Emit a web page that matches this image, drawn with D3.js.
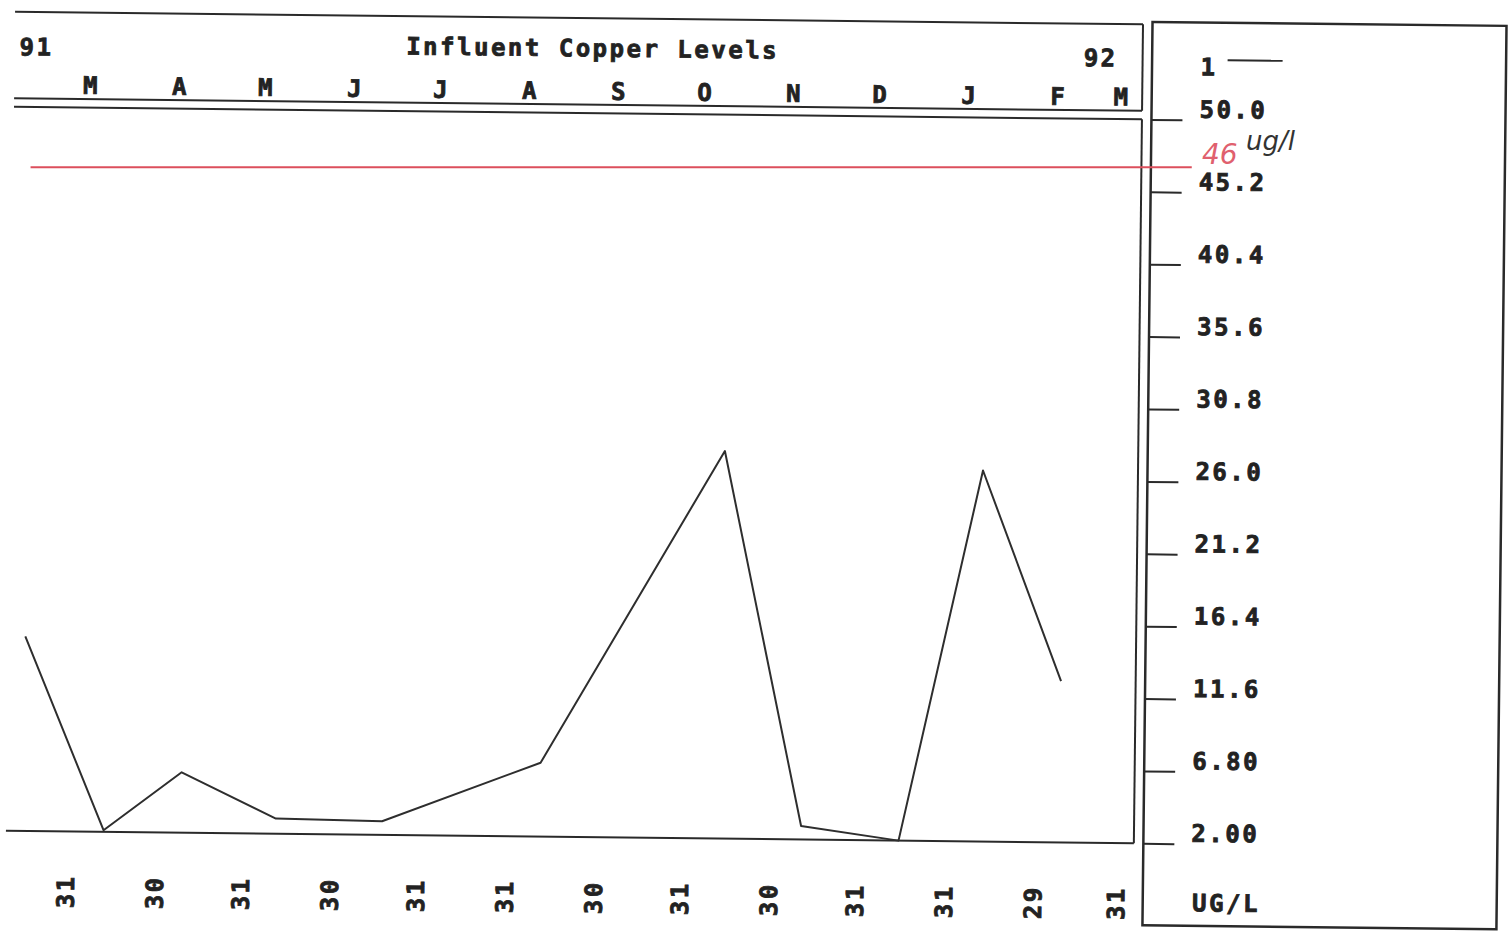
<!DOCTYPE html>
<html>
<head>
<meta charset="utf-8">
<script src="https://cdn.jsdelivr.net/npm/d3@7"></script>
<style>
  body { margin: 0; background: #fff; }
  svg { display: block; }
  .mono { font-family: 'DejaVu Sans Mono', monospace; font-weight: bold; font-size: 24px; fill: #222; stroke: #222; stroke-width: 0.8px; letter-spacing: 2.5px; }
  .frame { fill: none; stroke: #2a2a2a; stroke-width: 2; }
</style>
</head>
<body>
<div id="viz"></div>
<script>
const title = 'Influent Copper Levels'
const yearStart = '91', yearEnd = '92'

// monthly samples
const sampleDates = ['1991-02-14', '1991-03-14', '1991-04-10', '1991-05-13', '1991-06-19',
    '1991-08-13', '1991-10-15', '1991-11-12', '1991-12-16', '1992-01-13', '1992-02-10']
const copperLevels = [14.9, 2.1, 6.0, 3.0, 2.9, 6.9, 27.7, 2.9, 2.0, 26.6, 12.7]

const monthLetters = ['M', 'A', 'M', 'J', 'J', 'A', 'S', 'O', 'N', 'D', 'J', 'F', 'M']
const monthDays = ['31', '30', '31', '30', '31', '31', '30', '31', '30', '31', '31', '29', '31']

const yTickValues = [50.0, 45.2, 40.4, 35.6, 30.8, 26.0, 21.2, 16.4, 11.6, 6.8, 2.0]
const yTickLabels = ['50.0', '45.2', '40.4', '35.6', '30.8', '26.0', '21.2', '16.4', '11.6', '6.80', '2.00']

const unitLabel = 'UG/L'
const seriesLabel = '1'
const limitValue = 46
const limitText = '46', limitUnit = 'ug/l'

render = () => {
    const width = 1510,
        height = 940

    // the scan sits slightly skewed
    const tilt = 0.64, cx = 755, cy = 470

    const plot = { left: 10, right: 1138, top: 115, bottom: 839 }
    const header = { top: 20, bottom: 106.5 }
    const panel = { left: 1147.5, right: 1501.5, top: 17.5, bottom: 921 }

    const parse = d3.utcParse('%Y-%m-%d')
    const data = sampleDates.map((d, i) => ({ date: parse(d), value: copperLevels[i] }))

    const svg = d3.select('#viz').append('svg')
        .attr('width', width)
        .attr('height', height)
        .attr('viewBox', [0, 0, width, height])

    const g = svg.append('g')
        .attr('transform', `rotate(${tilt}, ${cx}, ${cy})`)

    const x = d3.scaleUtc()
        .domain([Date.UTC(1991, 1, 8), Date.UTC(1992, 2, 7)])
        .range([plot.left, plot.right])

    const y = d3.scaleLinear()
        .domain([2, 50])
        .range([plot.bottom, plot.top])

    // frames
    const lines = [
        [plot.left, header.top, plot.right, header.top],
        [plot.right, header.top, plot.right, header.bottom],
        [plot.left, header.bottom, plot.right, header.bottom],
        [plot.left, plot.top, plot.right, plot.top],
        [plot.right, plot.top, plot.right, plot.bottom],
        [plot.left, plot.bottom, plot.right, plot.bottom]
    ]
    g.selectAll('line.frame').data(lines)
        .enter()
        .append('line')
        .attr('class', 'frame')
        .attr('x1', d => d[0]).attr('y1', d => d[1])
        .attr('x2', d => d[2]).attr('y2', d => d[3])

    g.append('rect')
        .attr('class', 'frame')
        .attr('x', panel.left)
        .attr('y', panel.top)
        .attr('width', panel.right - panel.left)
        .attr('height', panel.bottom - panel.top)
        .style('stroke-width', 2.5)

    // header text
    g.append('text').attr('class', 'mono')
        .attr('x', 15).attr('y', 55).attr('dy', '0.35em')
        .text(yearStart)
    g.append('text').attr('class', 'mono')
        .attr('x', 1113).attr('y', 54).attr('dy', '0.35em')
        .attr('text-anchor', 'end')
        .text(yearEnd)
    g.append('text').attr('class', 'mono')
        .attr('x', 588).attr('y', 50).attr('dy', '0.35em')
        .attr('text-anchor', 'middle')
        .text(title)

    const months = d3.utcMonth.range(Date.UTC(1991, 2, 1), Date.UTC(1992, 2, 2))

    g.selectAll('text.month').data(months)
        .enter()
        .append('text')
        .attr('class', 'mono month')
        .attr('x', d => Math.min(x(d) + 17, 1118))
        .attr('y', 93)
        .attr('dy', '0.35em')
        .attr('text-anchor', 'middle')
        .text((d, i) => monthLetters[i])

    g.selectAll('text.days').data(months)
        .enter()
        .append('text')
        .attr('class', 'mono days')
        .attr('transform', d => `translate(${x(d)}, 899) rotate(-90)`)
        .attr('dy', '0.35em')
        .attr('text-anchor', 'middle')
        .text((d, i) => monthDays[i])

    // y axis on the right panel
    const yAxis = d3.axisRight(y)
        .tickValues(yTickValues)
        .tickFormat((d, i) => yTickLabels[i])
        .tickSize(31)
        .tickPadding(17)

    const yAxisG = g.append('g')
        .attr('transform', `translate(${panel.left}, 0)`)
        .call(yAxis)
    yAxisG.select('.domain').remove()
    yAxisG.selectAll('line').attr('stroke', '#2a2a2a').attr('stroke-width', 2)
    yAxisG.selectAll('text')
        .attr('class', 'mono')
        .attr('fill', null)
        .attr('y', -11)
        .attr('dy', '0.35em')
    yAxisG.attr('font-size', null).attr('font-family', null)

    g.append('text').attr('class', 'mono')
        .attr('x', 1196).attr('y', 62).attr('dy', '0.35em')
        .text(seriesLabel)
    g.append('line')
        .attr('x1', 1223).attr('x2', 1278)
        .attr('y1', 55).attr('y2', 55)
        .attr('stroke', '#2a2a2a').attr('stroke-width', 2)

    g.append('text').attr('class', 'mono')
        .attr('x', 1197).attr('y', 898).attr('dy', '0.35em')
        .text(unitLabel)

    // data line
    const line = d3.line()
        .x(d => x(d.date))
        .y(d => y(d.value))

    g.append('path')
        .datum(data)
        .attr('fill', 'none')
        .attr('stroke', '#2e2e2e')
        .attr('stroke-width', 2)
        .attr('stroke-linejoin', 'round')
        .attr('d', line)

    // hand-drawn limit, added on the paper after printing (not skewed)
    const a = tilt * Math.PI / 180
    const rot = (px, py) => [
        cx + (px - cx) * Math.cos(a) - (py - cy) * Math.sin(a),
        cy + (px - cx) * Math.sin(a) + (py - cy) * Math.cos(a)
    ]
    const start = rot(x(data[0].date), y(limitValue))
    const end = rot(panel.left + 31 + 10, y(limitValue))

    svg.append('line')
        .attr('x1', start[0]).attr('x2', end[0])
        .attr('y1', start[1]).attr('y2', start[1])
        .attr('stroke', '#dc4f5c')
        .attr('stroke-width', 2)

    svg.append('text')
        .attr('x', 1202).attr('y', 164)
        .attr('fill', '#e0606e')
        .style('font-family', 'DejaVu Sans, sans-serif')
        .style('font-style', 'italic')
        .style('font-size', '28px')
        .text(limitText)
    svg.append('text')
        .attr('x', 1246).attr('y', 150)
        .attr('fill', '#333')
        .style('font-family', 'DejaVu Sans, sans-serif')
        .style('font-style', 'italic')
        .style('font-size', '26px')
        .text(limitUnit)
}

render()
</script>
</body>
</html>
